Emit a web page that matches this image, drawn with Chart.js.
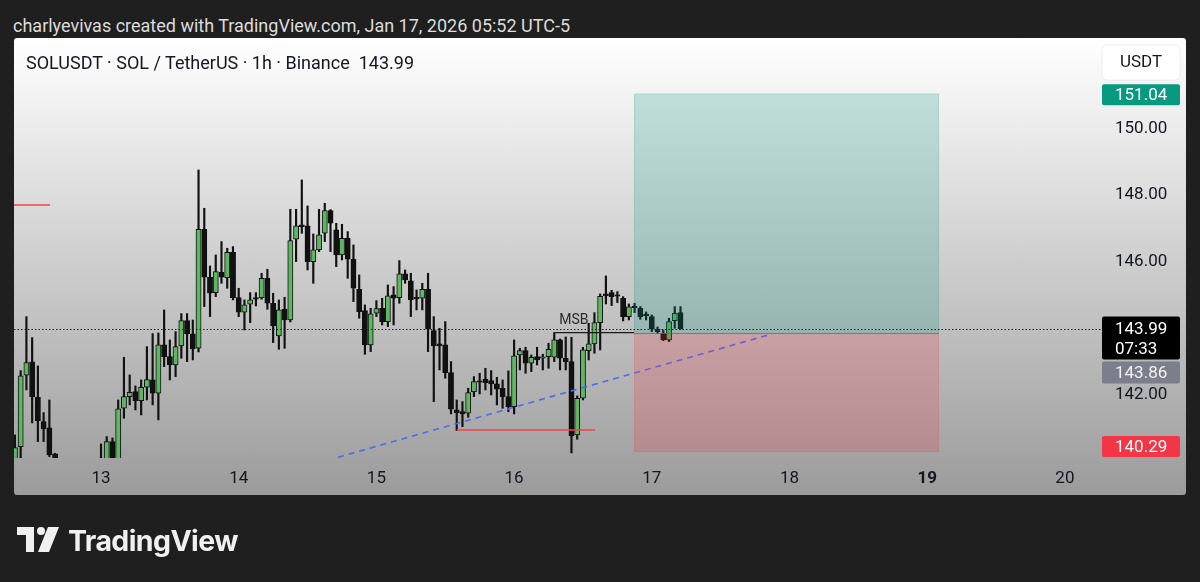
<!DOCTYPE html>
<html><head><meta charset="utf-8">
<script src="https://cdn.jsdelivr.net/npm/chart.js@4.4.1/dist/chart.umd.min.js"></script>
<style>
html,body{margin:0;padding:0;}
body{width:1200px;height:582px;background:#1f1f1f;position:relative;overflow:hidden;font-family:Roboto,sans-serif;}
#hdr{position:absolute;left:13px;top:17px;font-size:18px;line-height:18px;color:#dcdcdc;white-space:nowrap;}
#pane{position:absolute;left:14px;top:38px;width:1172px;height:457px;background:linear-gradient(180deg,#ffffff 0%,#9b9b9b 100%);border-radius:3px;}
#chart{position:absolute;left:0;top:0;}
#legend{position:absolute;left:26px;top:54px;font-size:18px;line-height:18px;color:#131722;white-space:nowrap;}
#logo{position:absolute;left:17px;top:522px;height:36px;display:flex;align-items:center;}
#logo span{font-family:Inter,Roboto,sans-serif;font-weight:700;font-size:28.5px;color:#f0f0f0;margin-left:9px;letter-spacing:-0.6px;}
</style></head>
<body>
<div id="hdr">charlyevivas created with TradingView.com, Jan 17, 2026 05:52 UTC-5</div>
<div id="pane"></div>
<canvas id="chart" width="1200" height="582"></canvas>
<div id="legend">SOLUSDT · SOL / TetherUS · 1h · Binance&nbsp;&nbsp;<span id="lastPx"></span></div>
<div id="logo"><svg width="42" height="26" viewBox="0 0 42 26"><path d="M0 0H17V25H9V8H0Z" fill="#f0f0f0"/><circle cx="24" cy="4" r="4" fill="#f0f0f0"/><path d="M31 0H42L32 25H21Z" fill="#f0f0f0"/></svg><span>TradingView</span></div>
<script>
// ---- data (SOLUSDT 1h, times in day-of-month, UTC-5) ----
const candleStart = 12 + 9 / 24;   // Jan 12, 09:00
const hour = 1 / 24;
const opens = [139.95,140.45,142.59,142.99,141.93,141.20,141.01,140.23,139.90,139.70,139.60,139.75,139.65,139.80,139.70,139.85,140.05,140.60,140.00,141.60,141.95,142.10,141.83,142.23,142.45,142.05,143.50,143.15,142.90,143.47,144.23,143.83,143.40,146.97,145.53,145.07,145.68,145.52,146.28,144.92,144.48,144.72,144.92,144.92,145.50,144.75,143.77,144.57,144.25,146.67,147.10,147.07,146.00,146.35,146.85,147.53,146.95,146.20,146.70,146.07,145.17,144.53,143.50,144.45,144.60,144.20,145.00,144.92,145.63,145.42,144.92,144.90,145.17,143.93,143.53,143.50,142.67,141.55,141.50,141.45,142.10,142.42,142.47,142.43,142.33,142.20,141.95,141.65,143.20,143.33,142.95,143.15,143.10,143.15,143.13,143.65,143.10,143.00,140.80,141.90,143.33,143.53,144.17,145.03,145.07,144.98,144.90,144.35,144.64,144.60,144.40,144.35,143.97,143.85,143.65,144.23,144.47];
const highs = [140.80,142.73,144.35,143.72,142.87,141.47,141.85,140.25,140.05,139.95,139.85,140.00,139.90,140.05,140.05,140.53,140.75,140.71,141.85,143.13,142.60,142.27,142.45,143.45,143.84,143.86,144.55,143.65,143.90,144.44,144.44,144.25,148.75,147.60,145.87,146.20,146.60,146.40,146.45,145.20,144.85,145.07,145.07,145.65,145.77,145.05,144.85,144.93,147.57,147.57,148.45,147.67,146.83,147.57,147.75,147.56,147.15,147.12,146.90,146.50,145.60,144.70,144.60,144.83,144.90,145.30,145.25,146.03,145.75,145.65,145.15,145.35,145.65,144.35,144.00,144.20,143.00,141.85,141.80,142.20,142.55,142.65,142.80,142.73,142.53,142.45,142.72,143.65,143.40,143.43,143.20,143.43,143.22,143.55,143.87,143.68,143.74,143.73,141.97,143.43,144.15,144.47,145.03,145.57,145.14,145.10,144.95,144.73,144.75,144.65,144.49,144.40,144.04,143.95,144.30,144.65,144.65];
const lows = [139.80,140.05,142.15,141.16,140.60,140.60,140.15,139.70,139.55,139.40,139.30,139.50,139.45,139.55,139.50,139.70,139.95,139.90,139.90,141.30,141.70,141.55,141.40,141.85,141.70,141.25,142.85,142.45,142.55,143.10,143.00,143.05,143.29,144.65,144.35,144.95,145.35,145.20,144.85,144.35,143.95,144.17,144.67,144.87,144.57,143.57,143.37,143.40,144.19,146.00,146.85,145.75,145.35,146.30,146.60,146.30,145.85,146.05,145.50,144.80,144.30,143.22,143.30,144.35,144.10,144.05,144.10,144.75,145.35,144.35,144.55,144.55,143.30,141.80,142.75,142.50,141.43,140.93,141.05,141.33,141.95,142.03,142.15,142.00,141.70,141.60,141.50,141.43,142.75,142.65,142.70,142.90,142.75,142.80,143.00,142.75,142.75,140.26,140.67,141.85,143.05,143.25,143.35,144.73,144.68,144.77,144.22,144.25,144.47,144.27,144.25,143.90,143.85,143.63,143.60,144.00,143.97];
const closes = [140.42,142.57,142.97,141.95,141.23,140.98,140.20,139.90,139.70,139.60,139.75,139.65,139.80,139.70,139.85,140.05,140.60,140.00,141.58,141.95,142.08,141.83,142.23,142.46,142.05,143.50,143.15,142.90,143.45,144.23,143.83,143.38,146.97,145.53,145.05,145.70,145.53,146.28,144.92,144.48,144.70,144.85,144.87,145.50,144.75,144.07,144.55,144.25,146.63,147.07,147.05,146.00,146.35,146.80,147.53,147.15,146.20,146.70,146.07,145.20,144.50,143.50,144.43,144.59,144.20,144.97,144.90,145.63,145.45,144.85,144.88,145.17,143.97,143.47,143.47,142.67,141.57,141.47,141.43,142.07,142.40,142.38,142.37,142.33,142.17,141.95,141.65,143.17,143.33,142.95,143.13,143.05,143.12,143.37,143.65,143.10,143.00,140.77,141.90,143.35,143.53,144.17,144.96,144.97,144.95,144.96,144.35,144.64,144.62,144.35,144.38,143.97,143.90,143.65,144.20,144.45,143.99];

const dayTicks = [13, 14, 15, 16, 17, 18, 19, 20];
const boldDay = 19;
const priceTicks = [142, 146, 148, 150];
const xRange = [12.3682, 20.2331];
const yRange = [140.108, 152.679];

// long position tool
const posTime = [16.871, 19.086];
const posTarget = 151.04, posEntry = 143.86, posStop = 140.29;
// drawings
const trendTime = [14.721, 17.873], trendPrice = [140.13, 143.83];
const supportTime = [15.583, 16.588], supportPrice = [140.95, 140.95];
const leftLineTime = [12.0, 12.630], leftLinePrice = [147.70, 147.70];
const msbTime = [16.292, 16.871], msbPrice = [143.87, 143.87];
const msbLabelTime = 16.434;
const countdown = '07:33';
const quote = 'USDT';

// ---- build ----
const times = opens.map((_, i) => candleStart + i * hour);
const lastClose = closes[closes.length - 1];
document.getElementById('lastPx').textContent = lastClose.toFixed(2);

const GREEN = '#5db760', DARK = '#111111';
const bodyColors = opens.map((o, i) => closes[i] >= o ? GREEN : DARK);
const pts = (xs, ys) => xs.map((x, i) => ({x, y: ys[i]}));

Chart.defaults.font.family = 'Roboto, sans-serif';

function roundRect(ctx, x, y, w, h, r) {
  ctx.beginPath();
  ctx.moveTo(x + r, y); ctx.lineTo(x + w - r, y); ctx.quadraticCurveTo(x + w, y, x + w, y + r);
  ctx.lineTo(x + w, y + h - r); ctx.quadraticCurveTo(x + w, y + h, x + w - r, y + h);
  ctx.lineTo(x + r, y + h); ctx.quadraticCurveTo(x, y + h, x, y + h - r);
  ctx.lineTo(x, y + r); ctx.quadraticCurveTo(x, y, x + r, y); ctx.closePath();
}

const overlay = {
  id: 'overlay',
  afterDatasetsDraw(chart) {
    const {ctx, chartArea: a, scales: {x, y}} = chart;
    ctx.save();
    ctx.beginPath(); ctx.rect(a.left, a.top, a.width, a.height); ctx.clip();
    const x0 = x.getPixelForValue(posTime[0]), x1 = x.getPixelForValue(posTime[1]);
    const yT = y.getPixelForValue(posTarget), yE = y.getPixelForValue(posEntry), yS = y.getPixelForValue(posStop);
    ctx.fillStyle = 'rgba(8,153,129,0.21)';
    ctx.fillRect(x0, yT, x1 - x0, yE - yT);
    ctx.fillStyle = 'rgba(242,54,69,0.21)';
    ctx.fillRect(x0, yE, x1 - x0, yS - yE);
    ctx.strokeStyle = 'rgba(8,153,129,0.15)'; ctx.lineWidth = 1;
    ctx.strokeRect(x0 + 0.5, yT + 0.5, x1 - x0 - 1, yE - yT);
    ctx.strokeStyle = 'rgba(242,54,69,0.12)';
    ctx.strokeRect(x0 + 0.5, yE + 0.5, x1 - x0 - 1, yS - yE - 1);
    ctx.strokeStyle = 'rgba(100,110,110,0.7)';
    ctx.beginPath(); ctx.moveTo(x0, Math.round(yE) + 0.5); ctx.lineTo(x1, Math.round(yE) + 0.5); ctx.stroke();
    // MSB label
    ctx.fillStyle = '#2a2a2a'; ctx.font = '14px Roboto, sans-serif';
    ctx.textAlign = 'center'; ctx.textBaseline = 'bottom';
    ctx.fillText('MSB', x.getPixelForValue(msbLabelTime), y.getPixelForValue(msbPrice[0]) - 5);
    ctx.restore();
    // current price dotted line
    const yc = Math.round(y.getPixelForValue(lastClose)) + 0.5;
    ctx.save();
    ctx.strokeStyle = '#222'; ctx.lineWidth = 1; ctx.setLineDash([1.5, 2]);
    ctx.beginPath(); ctx.moveTo(a.left, yc); ctx.lineTo(a.right + 5, yc); ctx.stroke();
    ctx.restore();
  },
  afterDraw(chart) {
    const {ctx, chartArea: a, scales: {y}} = chart;
    const bx = a.right + 5, bw = 78, tx = a.right + 18, bh = 21;
    ctx.save();
    ctx.font = '17px Roboto, sans-serif'; ctx.textBaseline = 'middle'; ctx.textAlign = 'left';
    // quote currency button
    ctx.fillStyle = '#ffffff'; roundRect(ctx, bx, a.top + 6, bw, 35, 6); ctx.fill();
    ctx.strokeStyle = 'rgba(0,0,0,0.06)'; ctx.stroke();
    ctx.fillStyle = '#131722'; ctx.textAlign = 'center';
    ctx.fillText(quote, bx + bw / 2, a.top + 24);
    ctx.textAlign = 'left';
    // target
    let yy = y.getPixelForValue(posTarget) + 1;
    ctx.fillStyle = '#089981'; roundRect(ctx, bx, yy - bh / 2, bw, bh, 2); ctx.fill();
    ctx.fillStyle = '#ffffff'; ctx.fillText(posTarget.toFixed(2), tx, yy + 1);
    // last price + countdown
    const yc = y.getPixelForValue(lastClose);
    ctx.fillStyle = '#000000'; roundRect(ctx, bx, yc - 12, bw, 43, 2); ctx.fill();
    ctx.fillStyle = '#ffffff'; ctx.fillText(lastClose.toFixed(2), tx, yc + 1);
    ctx.fillText(countdown, tx, yc + 21);
    // entry (stacked below)
    const ye = yc + 33 + 1 + bh / 2;
    ctx.fillStyle = '#7b7e8b'; roundRect(ctx, bx, ye - bh / 2 - 1, bw, bh + 1, 2); ctx.fill();
    ctx.fillStyle = '#f2f2f2'; ctx.fillText(posEntry.toFixed(2), tx, ye + 1);
    // stop
    let ys = Math.min(y.getPixelForValue(posStop), a.bottom - 1 - bh / 2);
    ctx.fillStyle = '#f23645'; roundRect(ctx, bx, ys - bh / 2, bw, bh, 2); ctx.fill();
    ctx.fillStyle = '#ffffff'; ctx.fillText(posStop.toFixed(2), tx, ys + 1);
    ctx.restore();
  }
};

new Chart(document.getElementById('chart'), {
  type: 'bar',
  data: {
    datasets: [
      {type: 'line', label: 'trend', data: pts(trendTime, trendPrice), borderColor: '#4a6cf2', borderWidth: 1.6, borderDash: [6, 5], pointRadius: 0, order: 0, clip: 0},
      {type: 'line', label: 'support', data: pts(supportTime, supportPrice), borderColor: '#f0454f', borderWidth: 1.4, pointRadius: 0, order: 0, clip: 0},
      {type: 'line', label: 'left', data: pts(leftLineTime, leftLinePrice), borderColor: '#f0454f', borderWidth: 1.4, pointRadius: 0, order: 0, clip: 0},
      {type: 'line', label: 'msb', data: pts(msbTime, msbPrice), borderColor: '#1a1a1a', borderWidth: 1.4, pointRadius: 0, order: 0, clip: 0},
      {label: 'bodies', data: times.map((t, i) => ({x: t, y: [opens[i], closes[i]]})), backgroundColor: bodyColors, borderColor: DARK, borderWidth: 1, borderSkipped: false, barThickness: 5.2, minBarLength: 1.5, grouped: false, order: 2, clip: 0},
      {label: 'wicks', data: times.map((t, i) => ({x: t, y: [lows[i], highs[i]]})), backgroundColor: DARK, borderWidth: 0, barThickness: 1.5, grouped: false, order: 3, clip: 0}
    ]
  },
  options: {
    responsive: false, animation: false, devicePixelRatio: 1,
    layout: {padding: {left: 14, top: 39, right: 14, bottom: 87}},
    plugins: {legend: {display: false}, tooltip: {enabled: false}},
    scales: {
      x: {
        type: 'linear', min: xRange[0], max: xRange[1], offset: false,
        grid: {display: false, drawTicks: false}, border: {display: false},
        afterBuildTicks: s => { s.ticks = dayTicks.map(v => ({value: v})); },
        afterFit: s => { s.height = 37; },
        ticks: {autoSkip: false, maxRotation: 0, padding: 11, color: '#131722',
          font: c => ({size: 17, weight: c.tick && c.tick.value === boldDay ? 'bold' : 'normal'}),
          callback: v => String(v)}
      },
      y: {
        position: 'right', min: yRange[0], max: yRange[1],
        grid: {display: false, drawTicks: false}, border: {display: false},
        afterBuildTicks: s => { s.ticks = priceTicks.map(v => ({value: v})); },
        afterFit: s => { s.width = 89; },
        ticks: {padding: 18, color: '#131722', font: {size: 17}, callback: v => v.toFixed(2)}
      }
    }
  },
  plugins: [overlay]
});
</script>
</body></html>
